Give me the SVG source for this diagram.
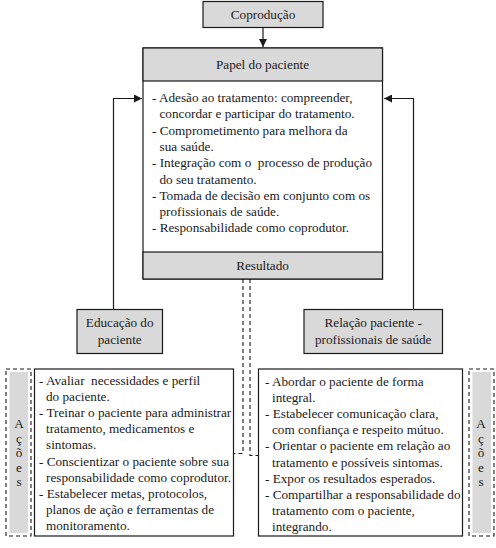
<svg xmlns="http://www.w3.org/2000/svg" width="496" height="548" viewBox="0 0 496 548" font-family="Liberation Serif, Times New Roman, serif" font-size="13.2">
<style>
text{fill:#1a1a1a}
.c{text-anchor:middle}
.box{fill:#fff;stroke:#1a1a1a;stroke-width:1.2}
.grey{fill:#d9d9d9;stroke:#1a1a1a;stroke-width:1.2}
.dash{fill:none;stroke:#1a1a1a;stroke-width:1.1;stroke-dasharray:4,3}
.ln{fill:none;stroke:#1a1a1a;stroke-width:1.2}
</style>
<defs>
<marker id="ah" viewBox="0 0 10 10" refX="10" refY="5" markerWidth="8" markerHeight="8" markerUnits="userSpaceOnUse" orient="auto">
<path d="M0,0 L10,5 L0,10 Z" fill="#1a1a1a"/>
</marker>
</defs>
<g id="connectors">
<line class="ln" x1="263" y1="27" x2="263" y2="47" marker-end="url(#ah)"/>
<polyline class="ln" points="113.5,309 113.5,98.5 142,98.5" marker-end="url(#ah)"/>
<polyline class="ln" points="413.5,309 413.5,98.5 384,98.5" marker-end="url(#ah)"/>
<polyline class="dash" points="243,279 243,453.5 233,453.5"/>
<polyline class="dash" points="250,279 250,455.5 258,455.5"/>
</g>
<g id="coproducao">
<rect class="grey" x="203" y="1.5" width="120" height="26"/>
<text class="c" x="263" y="18.8">Coprodução</text>
</g>
<g id="papel">
<rect class="box" x="143" y="48" width="239.5" height="231"/>
<rect class="grey" x="143" y="48" width="239.5" height="33"/>
<rect class="grey" x="143" y="252" width="239.5" height="27"/>
<text class="c" x="262.5" y="69">Papel do paciente</text>
<text x="152" y="102">- Adesão ao tratamento: compreender,</text>
<text x="159.5" y="118.3">concordar e participar do tratamento.</text>
<text x="152" y="134.6">- Comprometimento para melhora da</text>
<text x="159.5" y="150.9">sua saúde.</text>
<text x="152" y="167.2" xml:space="preserve">- Integração com o  processo de produção</text>
<text x="159.5" y="183.5">do seu tratamento.</text>
<text x="152" y="199.8">- Tomada de decisão em conjunto com os</text>
<text x="159.5" y="216.1">profissionais de saúde.</text>
<text x="152" y="232.4">- Responsabilidade como coprodutor.</text>
<text class="c" x="262.5" y="270">Resultado</text>
</g>
<g id="educacao">
<rect class="grey" x="77" y="309.5" width="85.5" height="44"/>
<text class="c" x="119.7" y="327">Educação do</text>
<text class="c" x="119.7" y="343.5">paciente</text>
</g>
<g id="relacao">
<rect class="grey" x="304" y="309.5" width="138.5" height="44"/>
<text class="c" x="373.2" y="327">Relação paciente -</text>
<text class="c" x="373.2" y="343.5">profissionais de saúde</text>
</g>
<g id="acoes-esq">
<rect class="dash" x="6" y="369" width="25" height="167"/>
<rect x="9.5" y="372" width="18.5" height="161" fill="#d9d9d9"/>
<text class="c" x="19" y="428">A</text>
<text class="c" x="19" y="442.5">ç</text>
<text class="c" x="19" y="457">õ</text>
<text class="c" x="19" y="471.5">e</text>
<text class="c" x="19" y="486">s</text>
</g>
<g id="acoes-educacao">
<rect class="box" x="34.5" y="369" width="199" height="167"/>
<text x="39" y="385" xml:space="preserve">- Avaliar  necessidades e perfil</text>
<text x="46" y="401.1">do paciente.</text>
<text x="39" y="417.2">- Treinar o paciente para administrar</text>
<text x="46" y="433.3">tratamento, medicamentos e</text>
<text x="46" y="449.4">sintomas.</text>
<text x="39" y="465.5">- Conscientizar o paciente sobre sua</text>
<text x="46" y="481.6">responsabilidade como coprodutor.</text>
<text x="39" y="497.7">- Estabelecer metas, protocolos,</text>
<text x="46" y="513.8">planos de ação e ferramentas de</text>
<text x="46" y="529.9">monitoramento.</text>
</g>
<g id="acoes-relacao">
<rect class="box" x="258.5" y="369" width="204" height="167"/>
<text x="265" y="386">- Abordar o paciente de forma</text>
<text x="272" y="402.1">integral.</text>
<text x="265" y="418.2">- Estabelecer comunicação clara,</text>
<text x="272" y="434.3">com confiança e respeito mútuo.</text>
<text x="265" y="450.4">- Orientar o paciente em relação ao</text>
<text x="272" y="466.5">tratamento e possíveis sintomas.</text>
<text x="265" y="482.6">- Expor os resultados esperados.</text>
<text x="265" y="498.7">- Compartilhar a responsabilidade do</text>
<text x="272" y="514.8">tratamento com o paciente,</text>
<text x="272" y="530.9">integrando.</text>
</g>
<g id="acoes-dir">
<rect class="dash" x="469" y="369" width="25" height="167"/>
<rect x="472.5" y="372" width="18.5" height="161" fill="#d9d9d9"/>
<text class="c" x="481" y="428">A</text>
<text class="c" x="481" y="442.5">ç</text>
<text class="c" x="481" y="457">õ</text>
<text class="c" x="481" y="471.5">e</text>
<text class="c" x="481" y="486">s</text>
</g>
</svg>
